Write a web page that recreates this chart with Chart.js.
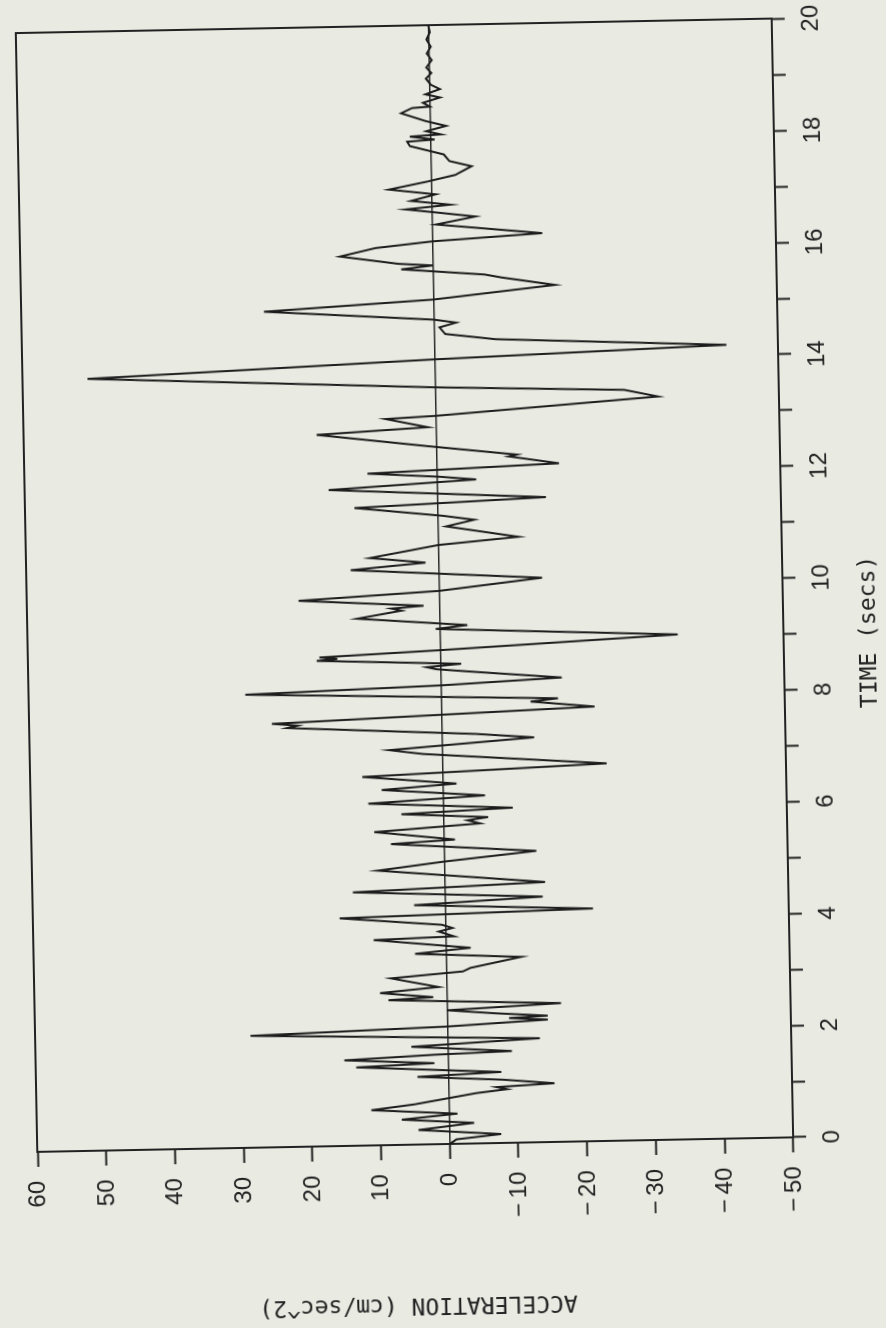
<!DOCTYPE html>
<html>
<head>
<meta charset="utf-8">
<script src="https://cdn.jsdelivr.net/npm/chart.js@4.4.1/dist/chart.umd.min.js"></script>
<style>
  html, body { margin: 0; padding: 0; width: 886px; height: 1328px; overflow: hidden; background: #e9eae2; }
  /* the plot is drawn landscape and turned onto the page, like the scanned sheet */
  #page { position: absolute; left: -221px; top: 221px; width: 1328px; height: 886px; transform: rotate(-91.1deg); }
</style>
</head>
<body>
<div id="page"><canvas id="accel" width="1328" height="886"></canvas></div>
<script>
// turning points of the trace (secs, cm/sec^2)
const timeSecs = [
  0.00, 0.08, 0.16, 0.26, 0.37, 0.45, 0.54, 0.63, 0.72, 0.82, 0.90, 0.96, 1.00, 1.05, 1.13,
  1.21, 1.27, 1.40, 1.45, 1.53, 1.60, 1.64, 1.75, 1.86, 2.00, 2.10, 2.19, 2.23, 2.26, 2.32,
  2.39, 2.48, 2.59, 2.63, 2.72, 2.81, 2.98, 3.08, 3.14, 3.32, 3.41, 3.50, 3.67, 3.71, 3.80,
  3.86, 3.92, 4.07, 4.16, 4.28, 4.39, 4.53, 4.65, 4.91, 5.05, 5.21, 5.38, 5.44, 5.60, 5.72,
  5.78, 5.83, 5.91, 5.99, 6.11, 6.22, 6.35, 6.44, 6.59, 6.75, 6.98, 7.06, 7.24, 7.32, 7.49,
  7.53, 7.57, 7.77, 7.88, 7.93, 8.10, 8.20, 8.30, 8.43, 8.49, 8.53, 8.58, 8.68, 8.71, 8.74,
  8.83, 9.03, 9.21, 9.27, 9.42, 9.55, 9.59, 9.63, 9.76, 9.89, 10.09, 10.29, 10.40, 10.50, 10.71,
  10.83, 11.04, 11.15, 11.23, 11.40, 11.53, 11.73, 11.87, 11.93, 12.01, 12.13, 12.27, 12.30, 12.48, 12.72,
  12.82, 12.98, 13.02, 13.29, 13.42, 13.53, 13.80, 14.03, 14.19, 14.37, 14.48, 14.60, 14.68, 14.74, 14.94,
  15.10, 15.32, 15.47, 15.53, 15.65, 15.71, 15.75, 15.90, 16.04, 16.14, 16.25, 16.44, 16.57, 16.65, 16.72,
  16.79, 16.87, 16.98, 17.08, 17.21, 17.32, 17.47, 17.57, 17.69, 17.85, 17.93, 17.96, 18.02, 18.05, 18.11,
  18.20, 18.29, 18.44, 18.53, 18.55, 18.62, 18.71, 18.77, 18.86, 18.94, 19.05, 19.15, 19.25, 19.38, 19.50,
  19.62, 19.75, 19.88, 20.00
];
const accelValues = [
  0, -1, -7.5, 4.5, -3.6, 6.9, -1.2, 11.3, 5, 0, -4, -8.5, -7, -15.4, -8,
  4.5, -7.7, 13.4, 2, 15.1, 2, -9.3, 5.3, -13.4, 28.7, 0, -14.6, -9, -14.6, -7,
  0, -16.6, 8.5, 2, 9.7, 1.2, 8.1, -2.4, -3.5, -10.9, 4.5, -3.6, 10.5, -1.2, 1,
  -1, 0.5, 15.4, -21.5, 4.5, -14.2, 13.4, -14.6, 9.7, 0, -13.4, 7.7, -1.6, 10.1, -5.3,
  -3.5, -6.5, 6.1, -10.1, 10.9, -6.1, 8.9, -2, 11.7, -23.9, 2.8, 7.7, -13.4, -5, 22.5,
  21, 24.7, -22.3, -13, -17, 28.5, 0, -17.6, -5, 0.6, 2, -3, 18, 15, 17.6,
  0, -34.6, 0.6, -4, 12, 5.5, 7, 2.3, 20.5, 0, -15, 12.8, 1.9, 10, 0,
  -11.7, -1.2, -5.3, -0.8, 12.1, -15.8, 15.8, -5.7, -0.4, 10.1, -17.8, -10.5, -11.7, 1.2, 17.4,
  1.2, 7.3, 0, -32.4, -27.5, 0, 50.6, 0, -42.5, -8.9, -1.6, -0.8, -3.2, 0, 24.7,
  0, -17.7, -10, -7.5, 4.6, 0, 5, 13.5, 8.3, 0, -16, -0.6, -6.3, -1, 3.8,
  -2.7, 3, -0.6, 6.2, 0.6, -3.5, -5.9, -2.7, -1.9, 3, 3.4, -0.6, 3, -1.5, 0.6,
  -2.3, 0.6, 4.2, 2.6, 0, 1, -1.5, 0.6, -1.5, -0.2, 0.5, -0.3, 0.4, -0.4, 0.3,
  -0.3, 0.3, -0.2, 0
];

const timeRange = [0, 20];
const accelRange = [-50, 60];
const timeTitle = 'TIME (secs)';
const accelTitle = 'ACCELERATION (cm/sec^2)';

const ink = '#222222';
const tickFont = { family: 'Liberation Sans', size: 24 };
const titleFont = { family: 'DejaVu Sans Mono', size: 23 };

Chart.defaults.font.family = 'Liberation Sans';
Chart.defaults.color = ink;

const points = timeSecs.map((t, i) => ({ x: t, y: accelValues[i] }));

new Chart(document.getElementById('accel'), {
  type: 'line',
  data: {
    datasets: [{
      data: points,
      borderColor: '#1c1c1c',
      borderWidth: 2,
      pointRadius: 0,
      tension: 0,
      fill: false
    }]
  },
  options: {
    responsive: false,
    animation: false,
    devicePixelRatio: 1,
    plugins: {
      legend: { display: false },
      tooltip: { enabled: false }
    },
    layout: { padding: { left: 0, right: 23, top: 17, bottom: 0 } },
    scales: {
      x: {
        type: 'linear',
        position: 'bottom',
        min: timeRange[0],
        max: timeRange[1],
        afterFit: (s) => { s.height = 102; },
        ticks: {
          stepSize: 1,
          autoSkip: false,
          maxRotation: 0,
          padding: 12,
          font: tickFont,
          color: ink,
          // ticks every second, numbers every other one
          callback: (v) => (v % 2 === 0 ? String(v) : '')
        },
        grid: { drawOnChartArea: false, tickLength: 13, tickWidth: 2, tickColor: ink, color: ink },
        border: { color: ink, width: 2 },
        title: {
          display: true,
          // the plotter set this label off-centre, a little toward t = 9
          text: timeTitle + '\u00a0'.repeat(8),
          font: titleFont,
          color: ink,
          padding: { top: 0, bottom: 2 }
        }
      },
      y: {
        type: 'linear',
        position: 'left',
        min: accelRange[0],
        max: accelRange[1],
        afterFit: (s) => { s.width = 184; },
        ticks: {
          stepSize: 10,
          padding: 14,
          font: tickFont,
          color: ink,
          callback: (v) => (v < 0 ? '\u2212\u2009' + Math.abs(v) : String(v))
        },
        grid: {
          drawOnChartArea: true,
          color: (ctx) => (ctx.tick && ctx.tick.value === 0 ? '#2a2a2a' : 'rgba(0,0,0,0)'),
          lineWidth: 1.5,
          tickLength: 15,
          tickWidth: 2,
          tickColor: ink
        },
        border: { color: ink, width: 2 },
        title: {
          display: true,
          text: accelTitle,
          font: titleFont,
          color: ink,
          padding: { top: 10, bottom: 0 }
        }
      },
      // top and right edges of the box
      xTop: {
        type: 'linear',
        axis: 'x',
        position: 'top',
        min: timeRange[0],
        max: timeRange[1],
        afterFit: (s) => { s.height = 0; },
        ticks: { display: false },
        grid: { drawOnChartArea: false, drawTicks: false },
        border: { color: ink, width: 2 }
      },
      yRight: {
        type: 'linear',
        axis: 'y',
        position: 'right',
        min: accelRange[0],
        max: accelRange[1],
        afterFit: (s) => { s.width = 0; },
        ticks: { display: false },
        grid: { drawOnChartArea: false, drawTicks: false },
        border: { color: ink, width: 2 }
      }
    }
  }
});
</script>
</body>
</html>
